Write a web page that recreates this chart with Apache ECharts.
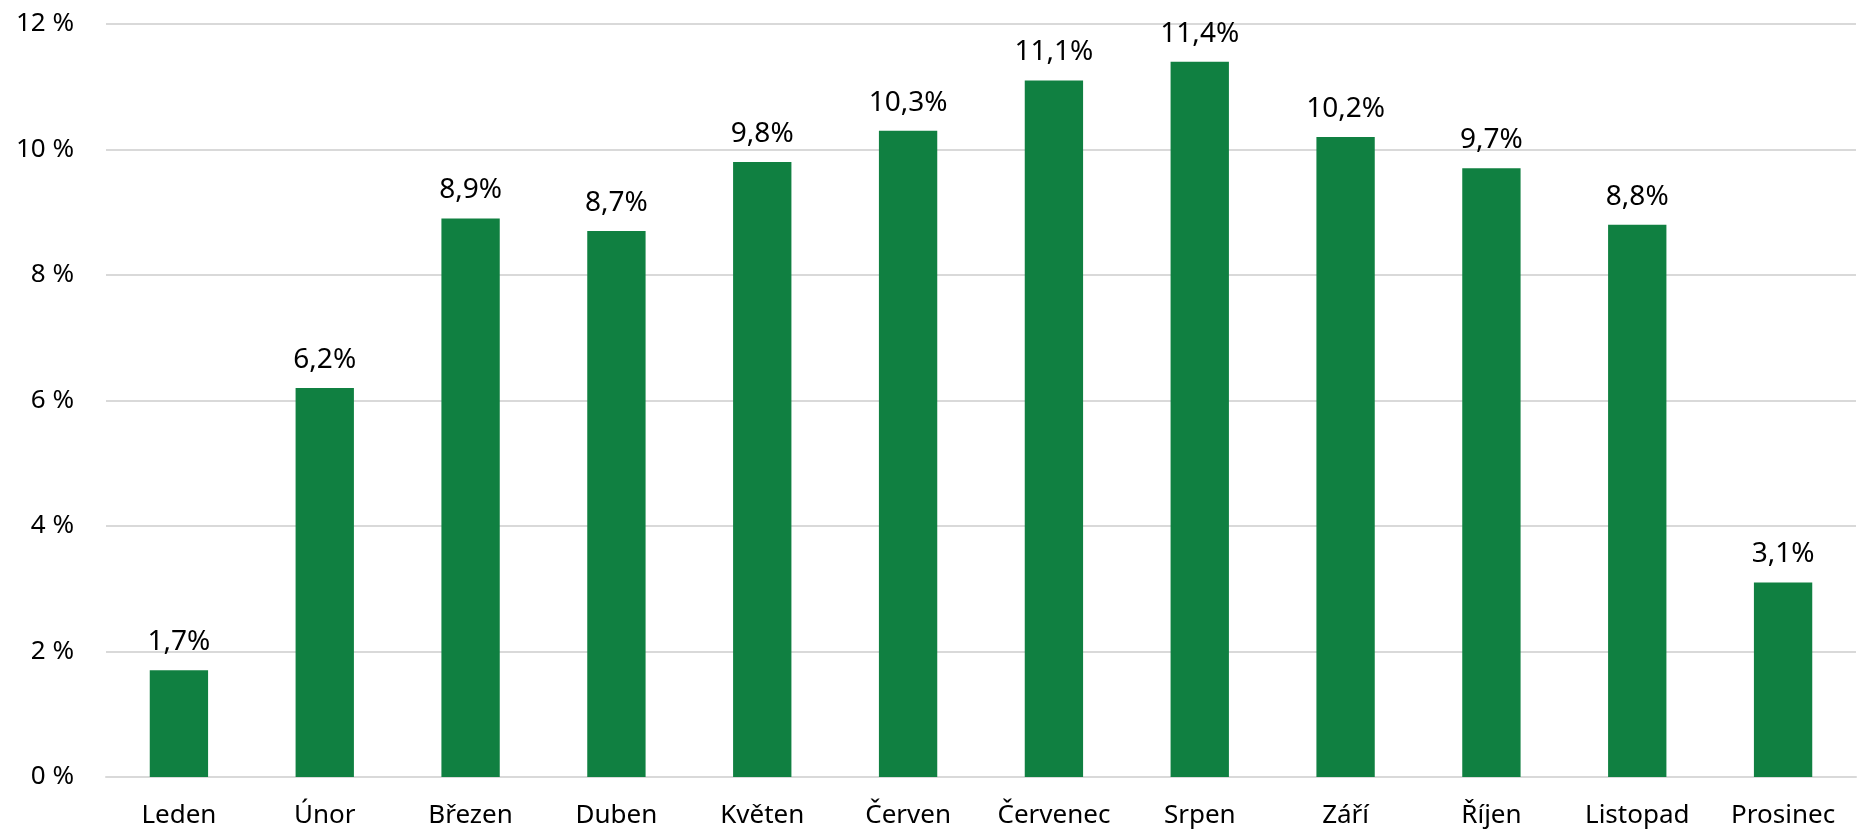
<!DOCTYPE html>
<html>
<head>
<meta charset="utf-8">
<script src="https://cdn.jsdelivr.net/npm/echarts@6/dist/echarts.min.js"></script>
<style>
  html, body { margin: 0; padding: 0; background: #ffffff; }
  #chart { width: 1858px; height: 835px; }
</style>
</head>
<body>
<div id="chart"></div>
<script>
// Monthly share (%) across the year
const months = ['Leden', 'Únor', 'Březen', 'Duben', 'Květen', 'Červen', 'Červenec', 'Srpen', 'Září', 'Říjen', 'Listopad', 'Prosinec'];
const shares = [1.7, 6.2, 8.9, 8.7, 9.8, 10.3, 11.1, 11.4, 10.2, 9.7, 8.8, 3.1];
const yTicks = [0, 2, 4, 6, 8, 10, 12];

const fontFamily = '"Noto Sans", "Open Sans", sans-serif';
const chart = echarts.init(document.getElementById('chart'), null, { renderer: 'canvas' });

chart.setOption({
  animation: false,
  backgroundColor: '#ffffff',
  grid: { left: 106, right: 2, top: 24, bottom: 58, containLabel: false },
  xAxis: {
    type: 'category',
    data: months,
    axisLine: { show: true, lineStyle: { color: '#d9d9d9', width: 2 } },
    axisTick: { show: false },
    axisLabel: { color: '#000000', fontSize: 26, fontFamily: fontFamily, margin: 26, interval: 0 }
  },
  yAxis: {
    type: 'value',
    min: yTicks[0],
    max: yTicks[yTicks.length - 1],
    interval: 2,
    axisLine: { show: false },
    axisTick: { show: false },
    splitLine: { lineStyle: { color: '#d9d9d9', width: 2 } },
    axisLabel: {
      color: '#000000', fontSize: 26, fontFamily: fontFamily, margin: 32,
      formatter: v => v + ' %'
    }
  },
  series: [{
    type: 'bar',
    data: shares,
    barWidth: '40%',
    itemStyle: { color: '#108041' },
    label: {
      show: true,
      position: 'top',
      distance: 14,
      color: '#000000',
      fontSize: 28,
      fontFamily: fontFamily,
      formatter: p => p.value.toFixed(1).replace('.', ',') + '%'
    }
  }]
});
</script>
</body>
</html>
